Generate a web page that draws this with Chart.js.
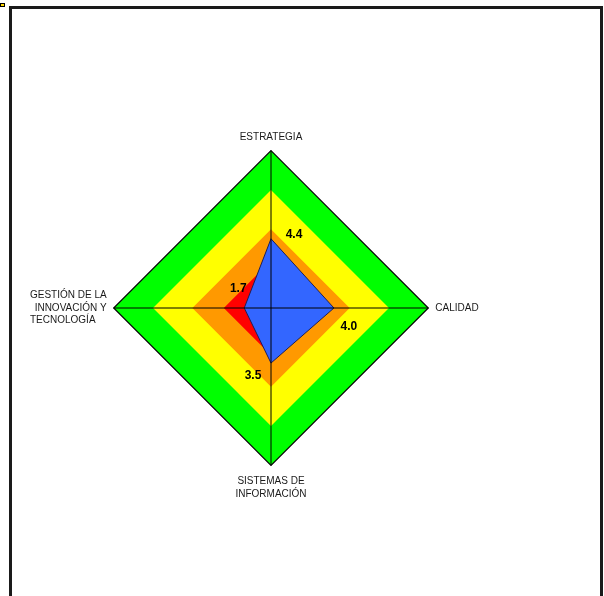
<!DOCTYPE html>
<html>
<head>
<meta charset="utf-8">
<script src="https://cdn.jsdelivr.net/npm/chart.js@4/dist/chart.umd.min.js"></script>
<style>
  html, body { margin: 0; padding: 0; background: #fff; width: 604px; height: 596px; overflow: hidden; }
  #marco { position: absolute; left: 9px; top: 6px; width: 588px; height: 600px; border: 3px solid #1a1a1a; }
  #marca { position: absolute; left: 0; top: 3px; width: 3px; height: 2px; background: #ffd800; border: 1px solid #000; }
  #grafico { position: absolute; left: 0; top: 0; }
</style>
</head>
<body>
<div id="marco"></div>
<div id="marca"></div>
<canvas id="grafico" width="604" height="596"></canvas>
<script>
// Ejes del diagnóstico (en el orden de las agujas del reloj, empezando arriba)
const ejes = [
  'ESTRATEGIA',
  'CALIDAD',
  ['SISTEMAS DE', 'INFORMACIÓN'],
  ['GESTIÓN DE LA', 'INNOVACIÓN Y', 'TECNOLOGÍA\u00a0\u00a0\u00a0\u00a0']
];

// Puntuación obtenida en cada eje
const valores = [4.4, 4.0, 3.5, 1.7];

// Bandas de referencia (rojo, naranja, amarillo, verde)
const nivelCritico = [3, 3, 3, 3];
const nivelBajo    = [5, 5, 5, 5];
const nivelMedio   = [7.5, 7.5, 7.5, 7.5];
const nivelAlto    = [10, 10, 10, 10];

const escalaMin = 0;
const escalaMax = 10;

// ---- presentación ----
const FUENTE = "'Liberation Sans', Arial, Helvetica, sans-serif";
const TAM_ETIQUETA = 10;
const ALTO_LINEA = 1.25;
const SEPARACION = [7, 7, 10, 7];         // distancia de cada etiqueta al vértice
const CENTRO_X = 271, CENTRO_Y = 308, RADIO = 157;

// Calcula el relleno del área del gráfico para que el rombo quede centrado en
// (CENTRO_X, CENTRO_Y) con el radio deseado, teniendo en cuenta el tamaño de las etiquetas.
function rellenoDiseno(ancho, alto) {
  const ctx = document.createElement('canvas').getContext('2d');
  ctx.font = `${TAM_ETIQUETA}px ${FUENTE}`;
  const med = ejes.map(e => {
    const lineas = [].concat(e);
    return {
      w: Math.max(...lineas.map(s => ctx.measureText(s).width)),
      h: lineas.length * TAM_ETIQUETA * ALTO_LINEA
    };
  });
  const t = med[0].h + SEPARACION[0];
  const r = med[1].w + SEPARACION[1];
  const b = med[2].h + SEPARACION[2];
  const l = med[3].w + SEPARACION[3];
  const m = Math.max(t, r, b, l);
  const D = Math.round(RADIO + m);
  const S = 2 * D;
  const left = CENTRO_X - D - Math.floor((l - r) / 2);
  const top = CENTRO_Y - D - Math.floor((t - b) / 2);
  return { left: left, top: top, right: ancho - left - S, bottom: alto - top - S };
}

function banda(nombre, datos, color, borde) {
  return {
    label: nombre,
    data: datos,
    backgroundColor: color,
    borderColor: borde || color,
    borderWidth: borde ? 1.2 : 0,
    fill: 'origin',
    pointRadius: 0,
    pointHoverRadius: 0
  };
}

// Etiquetas con el valor de cada vértice de la serie principal
const DESPLAZAMIENTO = [[23, -4], [15, 19], [-18, 13], [-6, -19]];
const etiquetasValor = {
  id: 'etiquetasValor',
  afterDraw(chart) {
    const meta = chart.getDatasetMeta(0);
    const datos = chart.data.datasets[0].data;
    const ctx = chart.ctx;
    ctx.save();
    ctx.font = `bold 12px ${FUENTE}`;
    ctx.fillStyle = '#000';
    ctx.textAlign = 'center';
    ctx.textBaseline = 'middle';
    meta.data.forEach((pt, i) => {
      const [dx, dy] = DESPLAZAMIENTO[i];
      ctx.fillText(datos[i].toFixed(1), pt.x + dx, pt.y + dy);
    });
    ctx.restore();
  }
};

const lienzo = document.getElementById('grafico');

new Chart(lienzo, {
  type: 'radar',
  data: {
    labels: ejes,
    datasets: [
      {
        label: 'Puntuación',
        data: valores,
        backgroundColor: '#3366ff',
        borderColor: '#1f1f55',
        borderWidth: 1,
        fill: 'origin',
        pointRadius: 0,
        pointHoverRadius: 0
      },
      banda('Crítico', nivelCritico, '#ff0000'),
      banda('Bajo', nivelBajo, '#ff9900'),
      banda('Medio', nivelMedio, '#ffff00'),
      banda('Alto', nivelAlto, '#00ff00', '#000000')
    ]
  },
  options: {
    responsive: false,
    animation: false,
    devicePixelRatio: 1,
    layout: { padding: rellenoDiseno(lienzo.width, lienzo.height) },
    elements: { line: { tension: 0 } },
    plugins: {
      legend: { display: false },
      tooltip: { enabled: false }
    },
    scales: {
      r: {
        min: escalaMin,
        max: escalaMax,
        startAngle: 0,
        ticks: { display: false, stepSize: 2.5 },
        grid: { display: false, z: 1 },
        angleLines: { display: true, color: '#000', lineWidth: 1 },
        pointLabels: {
          display: true,
          color: '#1a1a1a',
          padding: ctx => SEPARACION[ctx.index],
          font: { family: FUENTE, size: TAM_ETIQUETA, lineHeight: ALTO_LINEA }
        }
      }
    }
  },
  plugins: [etiquetasValor]
});
</script>
</body>
</html>
